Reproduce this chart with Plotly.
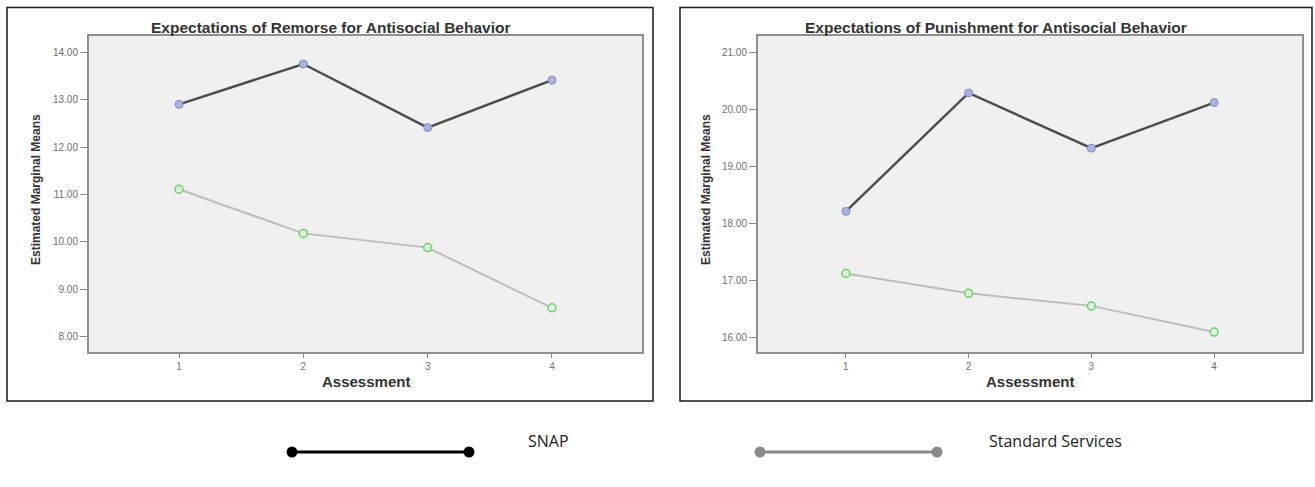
import plotly.graph_objects as go

W, H = 1315, 487

assessments = [1, 2, 3, 4]
tick_labels = ["1", "2", "3", "4"]

remorse_snap = [12.90, 13.75, 12.41, 13.41]
remorse_std = [11.11, 10.18, 9.88, 8.61]
punish_snap = [18.21, 20.29, 19.32, 20.12]
punish_std = [17.12, 16.77, 16.55, 16.09]

remorse_yticks = [8, 9, 10, 11, 12, 13, 14]
punish_yticks = [16, 17, 18, 19, 20, 21]

titles = ["Expectations of Remorse for Antisocial Behavior",
          "Expectations of Punishment for Antisocial Behavior"]
series_names = ["SNAP", "Standard Services"]

def px(x):
    return x / W

def py(y):
    return 1 - y / H

fig = go.Figure()

snap_line = dict(color="#4d4d4d", width=2.5)
std_line = dict(color="#bdbdbd", width=2)
snap_marker = dict(size=8, color="#aab3df", line=dict(color="#7f8cc8", width=1))
std_marker = dict(size=8, color="rgba(220,245,220,0.9)", line=dict(color="#6fcf6f", width=1.5))

for xa, ya, snap, std in [("x", "y", remorse_snap, remorse_std),
                          ("x2", "y2", punish_snap, punish_std)]:
    fig.add_trace(go.Scatter(x=assessments, y=std, mode="lines+markers", name=series_names[1],
                             line=std_line, marker=std_marker, xaxis=xa, yaxis=ya, showlegend=False))
    fig.add_trace(go.Scatter(x=assessments, y=snap, mode="lines+markers", name=series_names[0],
                             line=snap_line, marker=snap_marker, xaxis=xa, yaxis=ya, showlegend=False))

ydom = [py(352), py(36)]
axis_common = dict(showgrid=False, zeroline=False, showline=True, linecolor="#8f8f8f",
                   linewidth=2, mirror=True, ticks="outside", tickcolor="#8a8a8a",
                   tickfont=dict(family="Liberation Sans, Arial", size=10, color="#707070"))

fig.update_layout(
    width=W, height=H, margin=dict(l=0, r=0, t=0, b=0),
    paper_bgcolor="white", plot_bgcolor="#f0f0f0", showlegend=False,
    xaxis=dict(domain=[px(89), px(642)], range=[0.276, 4.724], tickvals=assessments,
               ticktext=tick_labels, ticklen=4, **axis_common),
    yaxis=dict(domain=ydom, range=[7.68, 14.34], tickvals=remorse_yticks,
               ticktext=[f"{v:.2f}" for v in remorse_yticks], ticklen=7, **axis_common),
    xaxis2=dict(domain=[px(758), px(1302)], range=[0.284, 4.716], tickvals=assessments,
                ticktext=tick_labels, ticklen=4, anchor="y2", **axis_common),
    yaxis2=dict(domain=ydom, range=[15.74, 21.29], tickvals=punish_yticks,
                ticktext=[f"{v:.2f}" for v in punish_yticks], ticklen=7, anchor="x2", **axis_common),
)

shapes = []
# panel borders
for x0, x1 in [(7, 653), (680, 1312)]:
    shapes.append(dict(type="rect", xref="paper", yref="paper", x0=px(x0), x1=px(x1),
                       y0=py(401), y1=py(7.5), line=dict(color="#1a1a1a", width=1.5)))

# custom legend
legend_items = [(292, 469, "#000000", 526, series_names[0]),
                (760, 937, "#8a8a8a", 987, series_names[1])]
annotations = []
for x0, x1, col, tx, label in legend_items:
    shapes.append(dict(type="line", xref="paper", yref="paper", x0=px(x0), x1=px(x1),
                       y0=py(452), y1=py(452), line=dict(color=col, width=3)))
    for cx in (x0, x1):
        shapes.append(dict(type="circle", xref="paper", yref="paper", xsizemode="pixel",
                           ysizemode="pixel", xanchor=px(cx), yanchor=py(452),
                           x0=-5.5, x1=5.5, y0=-5.5, y1=5.5, fillcolor=col,
                           line=dict(color=col, width=0)))
    annotations.append(dict(text=label, xref="paper", yref="paper", x=px(tx), y=py(441),
                            xanchor="left", yanchor="middle", showarrow=False,
                            font=dict(family="Open Sans, sans-serif", size=16, color="#222222")))

bold = "Liberation Sans, Arial"
for cx, t in [(331, titles[0]), (996, titles[1])]:
    annotations.append(dict(text=f"<b>{t}</b>", xref="paper", yref="paper", x=px(cx), y=py(28),
                            xanchor="center", yanchor="middle", showarrow=False,
                            font=dict(family=bold, size=15.5, color="#333333")))
for cx in (366, 1030):
    annotations.append(dict(text="<b>Assessment</b>", xref="paper", yref="paper", x=px(cx), y=py(381),
                            xanchor="center", yanchor="middle", showarrow=False,
                            font=dict(family=bold, size=15, color="#333333")))
for cx in (36, 706):
    annotations.append(dict(text="<b>Estimated Marginal Means</b>", xref="paper", yref="paper",
                            x=px(cx), y=py(190), xanchor="center", yanchor="middle", textangle=-90,
                            showarrow=False, font=dict(family=bold, size=12, color="#333333")))

fig.update_layout(shapes=shapes, annotations=annotations)
fig.write_html("out.html", config={"displayModeBar": False},
               post_script="document.body.style.margin='0';document.body.style.padding='0';")
